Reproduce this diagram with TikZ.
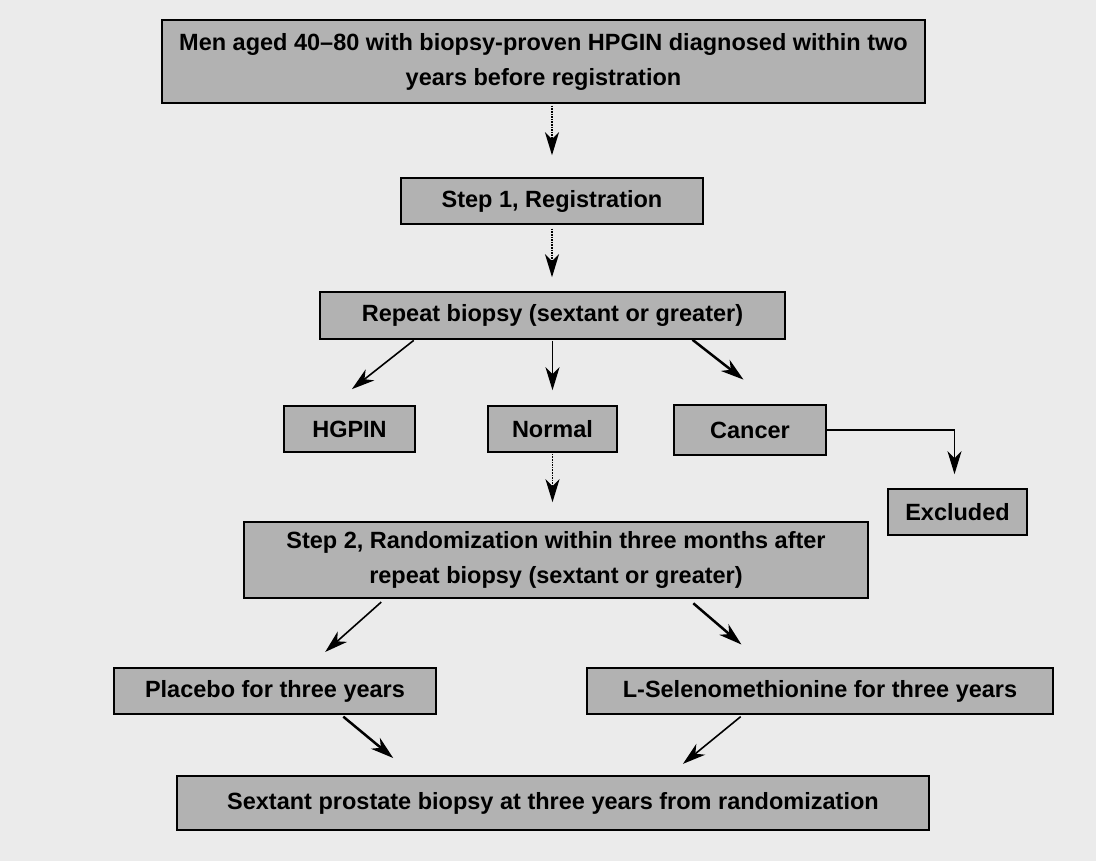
\documentclass[tikz,border=0pt]{standalone}
\usepackage{fontspec}
\setmainfont{Liberation Sans}
\usepackage{tikz}
\usetikzlibrary{arrows.meta}

\begin{document}
\begin{tikzpicture}[x=1pt,y=-1pt,>={Stealth[length=23pt,width=14pt,inset=7pt]},
  box/.style={draw=black,line width=1.5pt,fill=black!30,inner sep=0pt,align=center,
    font=\bfseries\fontsize{23.5}{35}\selectfont},
  arr/.style={->,line width=1.6pt},
  thickarr/.style={->,line width=2.5pt},
  dotarr/.style={->,densely dotted,line width=1.6pt}]
  \fill[black!8] (0,0) rectangle (1096,861);
  \useasboundingbox (0,0) rectangle (1096,861);
  \node[box,minimum width=763pt,minimum height=83pt] (top) at (543.5,61.5) {Men aged 40--80 with biopsy-proven HPGIN diagnosed within two\\years before registration};
  \node[box,minimum width=302pt,minimum height=46pt] (step1) at (552,201) {Step 1, Registration};
  \node[box,minimum width=465pt,minimum height=47pt] (repeat) at (552.5,315.5) {Repeat biopsy (sextant or greater)};
  \node[box,minimum width=131pt,minimum height=46pt] (hgpin) at (349.5,429) {HGPIN};
  \node[box,minimum width=129pt,minimum height=46pt] (normal) at (552.5,429) {Normal};
  \node[box,minimum width=152pt,minimum height=50pt] (cancer) at (750,430) {Cancer};
  \node[box,minimum width=139pt,minimum height=46pt] (excluded) at (957.5,512) {Excluded};
  \node[box,minimum width=624pt,minimum height=76pt] (step2) at (556,560) {Step 2, Randomization within three months after\\repeat biopsy (sextant or greater)};
  \node[box,minimum width=322pt,minimum height=46pt] (placebo) at (275,691) {Placebo for three years};
  \node[box,minimum width=466pt,minimum height=46pt] (seleno) at (820,691) {L-Selenomethionine for three years};
  \node[box,minimum width=752pt,minimum height=54pt] (final) at (553,803) {Sextant prostate biopsy at three years from randomization};

  \draw[dotarr,shorten <=2pt,shorten >=22pt] (top.south -| step1.north) -- (step1.north);
  \draw[dotarr,shorten <=4pt,shorten >=14pt] (step1.south) -- (step1.south |- repeat.north);
  \draw[arr,shorten <=1pt,shorten >=26pt] ([xshift=-138pt]repeat.south) -- ([xshift=-18pt]hgpin.north);
  \draw[arr,shorten <=1pt,shorten >=15pt] (repeat.south) -- (normal.north);
  \draw[thickarr,shorten >=40pt] ([xshift=140pt]repeat.south) -- ([xshift=25pt]cancer.north);
  \draw[arr,line width=1.3pt,shorten >=14pt] (cancer.east) -| ([xshift=-3pt]excluded.north);
  \draw[dotarr,shorten <=1pt,shorten >=19pt] (normal.south) -- (normal.south |- step2.north);
  \draw[arr,shorten <=5pt,shorten >=23pt] ([xshift=-171pt]step2.south) -- ([xshift=33pt]placebo.north);
  \draw[thickarr,shorten <=7pt,shorten >=35pt] ([xshift=132pt]step2.south) -- ([xshift=-52pt]seleno.north);
  \draw[thickarr,shorten <=3pt,shorten >=27pt] ([xshift=66pt]placebo.south) -- ([xshift=-139pt]final.north);
  \draw[arr,shorten <=3pt,shorten >=18pt] ([xshift=-77pt]seleno.south) -- ([xshift=116pt]final.north);
\end{tikzpicture}
\end{document}
